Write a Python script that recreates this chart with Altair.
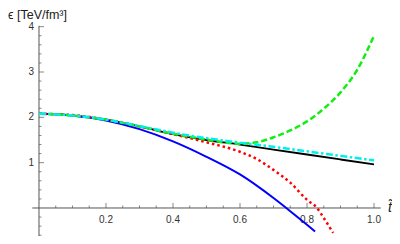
import altair as alt
import pandas as pd

# ---- data ----
t_blue = [0, 0.1, 0.2, 0.3, 0.4, 0.5, 0.6, 0.7, 0.75, 0.8, 0.824]
e_blue = [2.08, 2.04, 1.93, 1.74, 1.47, 1.13, 0.74, 0.22, -0.07, -0.37, -0.52]

t_red = [0, 0.1, 0.2, 0.3, 0.4, 0.5, 0.6, 0.65, 0.7, 0.75, 0.8, 0.83, 0.85, 0.878]
e_red = [2.08, 2.05, 1.95, 1.80, 1.63, 1.45, 1.24, 1.08, 0.84, 0.56, 0.18, 0.0, -0.22, -0.55]

t_black = [0, 0.1, 0.2, 0.3, 0.4, 0.5, 0.6, 0.7, 0.8, 0.9, 1.0]
e_black = [2.08, 2.04, 1.95, 1.80, 1.63, 1.50, 1.40, 1.29, 1.18, 1.07, 0.96]

t_cyan = [0, 0.1, 0.2, 0.3, 0.4, 0.5, 0.6, 0.7, 0.8, 0.9, 1.0]
e_cyan = [2.08, 2.04, 1.95, 1.81, 1.66, 1.54, 1.44, 1.35, 1.25, 1.15, 1.05]

t_green = [0, 0.1, 0.2, 0.3, 0.4, 0.5, 0.55, 0.6, 0.65, 0.7, 0.75, 0.8, 0.85, 0.9, 0.95, 1.0]
e_green = [2.08, 2.04, 1.95, 1.80, 1.64, 1.51, 1.45, 1.42, 1.45, 1.56, 1.71, 1.91, 2.19, 2.55, 3.05, 3.80]

x_major = [0.2, 0.4, 0.6, 0.8, 1.0]
x_labels = ["0.2", "0.4", "0.6", "0.8", "1.0"]
x_minor = [0.05, 0.1, 0.15, 0.25, 0.3, 0.35, 0.45, 0.5, 0.55,
           0.65, 0.7, 0.75, 0.85, 0.9, 0.95]
y_major = [1, 2, 3, 4]
y_labels = ["1", "2", "3", "4"]
y_minor = [-0.6, -0.4, -0.2, 0.2, 0.4, 0.6, 0.8, 1.2, 1.4, 1.6, 1.8,
           2.2, 2.4, 2.6, 2.8, 3.2, 3.4, 3.6, 3.8]
x_axis_extent = [-0.02, 1.02]
y_axis_extent = [-0.75, 4.02]

y_title = "ϵ [TeV/fm³]"
x_title = "t̃"

# ---- scales ----
xsc = alt.Scale(domain=[-0.0925, 1.0537], nice=False, zero=False)
ysc = alt.Scale(domain=[-0.6177, 4.412], nice=False, zero=False)
AX = "#555555"
FONT = "Liberation Sans"


def X(f):
    return alt.X(f, type="quantitative", scale=xsc, axis=None)


def Y(f):
    return alt.Y(f, type="quantitative", scale=ysc, axis=None)


def curve(ts, es, color, width, dash=None):
    df = pd.DataFrame({"t": ts, "e": es})
    kw = dict(color=color, strokeWidth=width, interpolate="monotone")
    if dash:
        kw["strokeDash"] = dash
    return alt.Chart(df).mark_line(**kw).encode(x=X("t"), y=Y("e"))


# axes lines
xaxis = alt.Chart(pd.DataFrame({"a": [x_axis_extent[0]], "b": [x_axis_extent[1]], "y": [0]})).mark_rule(
    color=AX, strokeWidth=1).encode(x=X("a"), x2="b", y=Y("y"))
yaxis = alt.Chart(pd.DataFrame({"a": [y_axis_extent[0]], "b": [y_axis_extent[1]], "x": [0]})).mark_rule(
    color=AX, strokeWidth=1).encode(y=Y("a"), y2="b", x=X("x"))

# ticks
xmaj = alt.Chart(pd.DataFrame({"x": x_major, "y": [0] * len(x_major)})).mark_tick(
    orient="vertical", size=5, thickness=1, yOffset=-2.5, color=AX).encode(x=X("x"), y=Y("y"))
xmin = alt.Chart(pd.DataFrame({"x": x_minor, "y": [0] * len(x_minor)})).mark_tick(
    orient="vertical", size=2.5, thickness=1, yOffset=-1.25, color=AX).encode(x=X("x"), y=Y("y"))
ymaj = alt.Chart(pd.DataFrame({"y": y_major, "x": [0] * len(y_major)})).mark_tick(
    orient="horizontal", size=5, thickness=1, xOffset=2.5, color=AX).encode(x=X("x"), y=Y("y"))
ymin = alt.Chart(pd.DataFrame({"y": y_minor, "x": [0] * len(y_minor)})).mark_tick(
    orient="horizontal", size=2.5, thickness=1, xOffset=1.25, color=AX).encode(x=X("x"), y=Y("y"))

# tick labels
xlab = alt.Chart(pd.DataFrame({"x": x_major, "y": [0] * len(x_major), "l": x_labels})).mark_text(
    font=FONT, fontSize=10, color="#333333", dy=12, baseline="middle", align="center").encode(
    x=X("x"), y=Y("y"), text="l:N")
ylab = alt.Chart(pd.DataFrame({"y": y_major, "x": [0] * len(y_major), "l": y_labels})).mark_text(
    font=FONT, fontSize=10, color="#333333", dx=-5, baseline="middle", align="right").encode(
    x=X("x"), y=Y("y"), text="l:N")

# axis titles
ttl = alt.Chart(pd.DataFrame({"l": [y_title]})).mark_text(
    font=FONT, fontSize=12.5, color="#222222", align="left", baseline="alphabetic").encode(
    x=alt.value(0), y=alt.value(11), text="l:N")
xt = alt.Chart(pd.DataFrame({"l": [x_title], "y": [0]})).mark_text(
    font=FONT, fontSize=14, fontStyle="italic", color="#222222", align="right", baseline="middle").encode(
    x=alt.value(384), y=Y("y"), text="l:N")

lines = [
    curve(t_black, e_black, "#000000", 1.8),
    curve(t_blue, e_blue, "#0000ff", 2.0),
    curve(t_red, e_red, "#ff0000", 2.5, [2.5, 3]),
    curve(t_green, e_green, "#11ee11", 2.5, [6, 3]),
    curve(t_cyan, e_cyan, "#00eeee", 2.5, [7, 2.5, 2.5, 2.5]),
]

chart = alt.layer(xaxis, yaxis, xmin, xmaj, ymin, ymaj, xlab, ylab, *lines, ttl, xt).properties(
    width=384, height=228, padding=0, autosize=alt.AutoSizeParams(type="none")
).configure_view(stroke=None)

chart.save("out.html", embed_options={"renderer": "svg", "actions": False})
